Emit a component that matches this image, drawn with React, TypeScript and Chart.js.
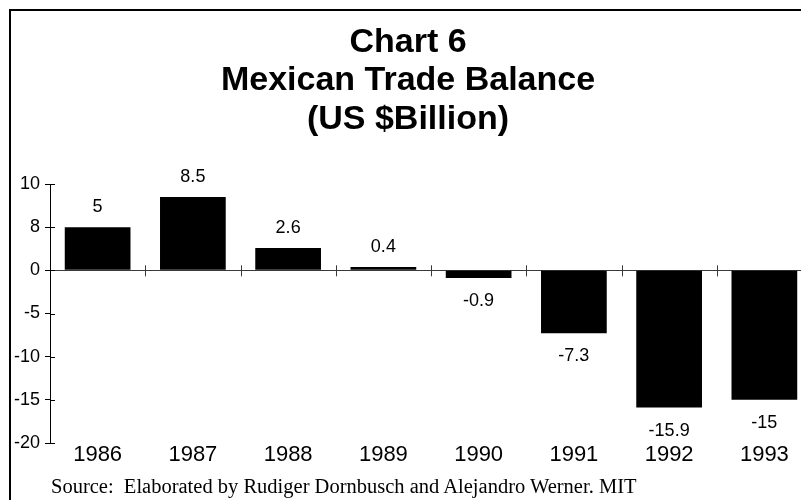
import React, { useEffect, useRef } from "react";
import { Chart, registerables } from "chart.js";

Chart.register(...registerables);

const titleLines = ["Chart 6", "Mexican Trade Balance", "(US $Billion)"];
const years = ["1986", "1987", "1988", "1989", "1990", "1991", "1992", "1993"];
const tradeBalance = [5, 8.5, 2.6, 0.4, -0.9, -7.3, -15.9, -15];
const valueLabels = ["5", "8.5", "2.6", "0.4", "-0.9", "-7.3", "-15.9", "-15"];
const yTickValues = [-20, -15, -10, -5, 0, 5, 10];
const yTickLabels = ["-20", "-15", "-10", "-5", "0", "8", "10"];
const sourceNote = "Source:  Elaborated by Rudiger Dornbusch and Alejandro Werner. MIT";

const SANS = "'Liberation Sans', Arial, sans-serif";
const SERIF = "'Liberation Serif', 'Times New Roman', serif";

const decorPlugin = {
  id: "decor",
  beforeDatasetsDraw(chart: any) {
    const { ctx, chartArea, scales } = chart;
    const x = scales.x;
    const y = scales.y;
    const y0 = y.getPixelForValue(0);
    ctx.save();
    ctx.strokeStyle = "#3a3a3a";
    ctx.lineWidth = 1;
    ctx.beginPath();
    ctx.moveTo(chartArea.left, Math.round(y0) + 0.5);
    ctx.lineTo(chartArea.right, Math.round(y0) + 0.5);
    // category boundary ticks crossing the zero line
    for (let i = 1; i < years.length; i++) {
      const bx = (x.getPixelForValue(i - 1) + x.getPixelForValue(i)) / 2;
      ctx.moveTo(Math.round(bx) + 0.5, y0 - 5);
      ctx.lineTo(Math.round(bx) + 0.5, y0 + 6);
    }
    ctx.stroke();
    // inner half of the y-axis tick marks
    ctx.strokeStyle = "#000";
    ctx.beginPath();
    for (const v of yTickValues) {
      const py = Math.round(y.getPixelForValue(v)) + 0.5;
      ctx.moveTo(chartArea.left, py);
      ctx.lineTo(chartArea.left + 5, py);
    }
    ctx.stroke();
    ctx.restore();
  },
  afterDatasetsDraw(chart: any) {
    const { ctx } = chart;
    const meta = chart.getDatasetMeta(0);
    ctx.save();
    ctx.fillStyle = "#000";
    ctx.font = `18px ${SANS}`;
    ctx.textAlign = "center";
    ctx.textBaseline = "alphabetic";
    meta.data.forEach((bar: any, i: number) => {
      const v = tradeBalance[i];
      const ty = v >= 0 ? bar.y - 15 : bar.y + 28;
      ctx.fillText(valueLabels[i], bar.x, ty);
    });
    ctx.restore();
  },
};

export default function App() {
  const canvasRef = useRef<HTMLCanvasElement | null>(null);

  useEffect(() => {
    const canvas = canvasRef.current;
    if (!canvas) return;
    const chart = new Chart(canvas, {
      type: "bar",
      data: {
        labels: years,
        datasets: [
          {
            data: tradeBalance,
            backgroundColor: "#000",
            borderWidth: 0,
            barPercentage: 0.69,
            categoryPercentage: 1,
          },
        ],
      },
      options: {
        animation: false,
        responsive: false,
        maintainAspectRatio: false,
        layout: { padding: { left: 4, right: 8, top: 0, bottom: 0 } },
        plugins: {
          legend: { display: false },
          tooltip: { enabled: false },
          title: {
            display: true,
            text: titleLines,
            color: "#000",
            font: { family: SANS, size: 34, weight: "bold", lineHeight: 1.12 },
            padding: { top: 24, bottom: 45.76 },
          },
        },
        scales: {
          x: {
            grid: { display: false, drawTicks: false },
            border: { display: false },
            ticks: {
              color: "#000",
              font: { family: SANS, size: 22, lineHeight: 1 },
              padding: 1,
              maxRotation: 0,
              autoSkip: false,
            },
            afterFit(scale: any) {
              scale.height = 57;
            },
          },
          y: {
            min: -20,
            max: 10,
            afterBuildTicks(scale: any) {
              scale.ticks = yTickValues.map((v) => ({ value: v }));
            },
            grid: {
              display: true,
              drawOnChartArea: false,
              drawTicks: true,
              tickLength: 5,
              color: "#000",
            },
            border: { display: true, color: "#000", width: 1 },
            ticks: {
              color: "#000",
              font: { family: SANS, size: 18 },
              padding: 5,
              callback(value: any) {
                const idx = yTickValues.indexOf(Number(value));
                return idx >= 0 ? yTickLabels[idx] : "";
              },
            },
            afterFit(scale: any) {
              scale.width = 46;
            },
          },
        },
      },
      plugins: [decorPlugin],
    } as any);
    return () => chart.destroy();
  }, []);

  return (
    <div
      style={{
        position: "fixed",
        left: 0,
        top: 0,
        width: 801,
        height: 500,
        overflow: "hidden",
        background: "#fff",
      }}
    >
      <canvas
        ref={canvasRef}
        width={820}
        height={500}
        style={{ position: "absolute", left: 0, top: 0, width: 820, height: 500 }}
      />
      <div
        style={{
          position: "absolute",
          left: 9,
          top: 9,
          width: 900,
          height: 700,
          borderLeft: "2px solid #000",
          borderTop: "2px solid #000",
          pointerEvents: "none",
        }}
      />
      <div
        style={{
          position: "absolute",
          left: 51,
          top: 475,
          fontFamily: SERIF,
          fontSize: 20.5,
          lineHeight: "22px",
          color: "#000",
          whiteSpace: "pre",
        }}
      >
        {sourceNote}
      </div>
    </div>
  );
}
